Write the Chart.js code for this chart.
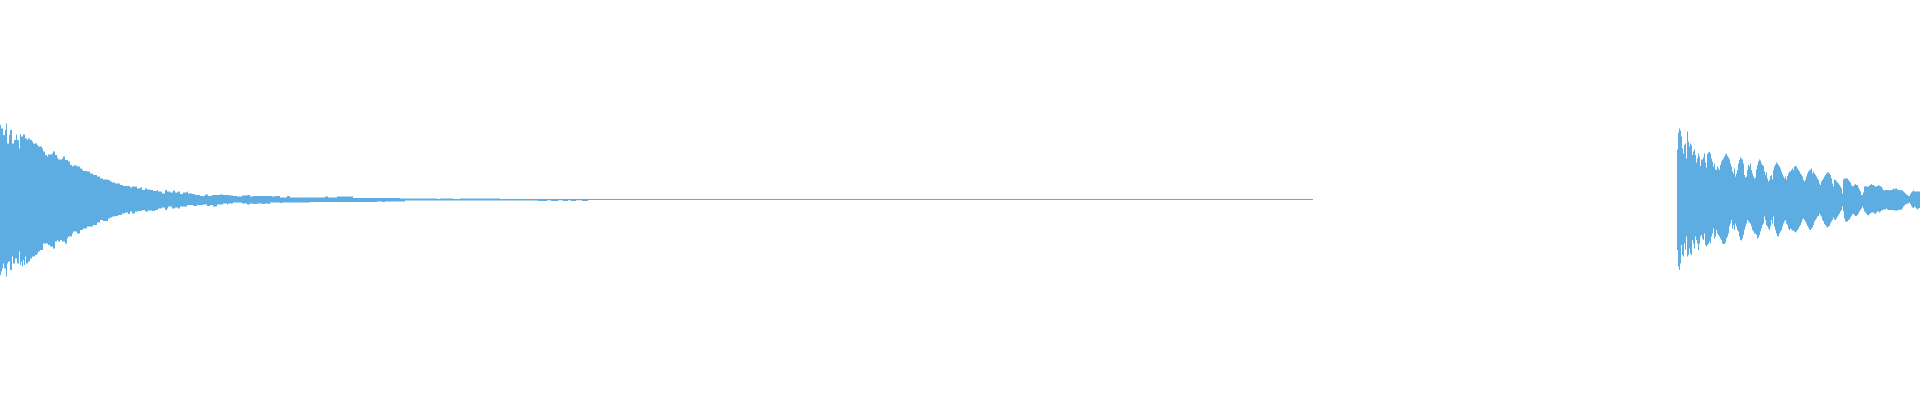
<!DOCTYPE html>
<html>
<head>
<meta charset="utf-8">
<style>
  html, body { margin: 0; padding: 0; background: #ffffff; }
  #wrap { width: 1920px; height: 400px; }
</style>
<script src="https://cdn.jsdelivr.net/npm/chart.js@4.4.1/dist/chart.umd.min.js"></script>
</head>
<body>
<div id="wrap"><canvas id="c" width="1920" height="400"></canvas></div>
<script>
// Waveform: amplitude in % of full scale, time in frames (0..1920)
const timeRange = [0, 1920];
const amplitudeRange = [-100, 100];

// First sound: sharp attack with a long decay tail
const clipAPeakTime = [0,1,3,5,6,7,9,10,12,14,16,17,19,20,21,23,25,27,28,30,32,33,37,38,42,43,45,47,48,52,53,55,57,58,62,63,65,68,70,72,73,77,80,82,83,87,90,93,97,100,103,108,110,112,115,120,123,130,132,137,140,142,145,147,150,153,157,158,162,165,167,170,173,175,178,180,183,187,188,192,195,200,205,208,212,220,223,230,233,237,242,247,250,253,272,275,280,287,290,325,328,337,353,400,437,440,453,460,475,500,1310,1313];
const clipAPeak = [37.5,35.8,32.5,35,38.3,28.3,32.5,35,28.3,30,32.8,30,25.8,32.8,31.7,32.8,30.8,30,30.8,30,29.2,28.3,27.5,26.7,25.8,24.2,22.5,21.7,22.8,23.3,24.2,22.5,21.2,20.3,20.8,21.7,20,19.2,17.5,16.7,17.2,16.7,15.8,15,14.5,14.2,13.3,12.5,11.7,10.8,10.3,10,9.2,8.7,8.3,7.5,7,6.3,6.7,5.8,6.3,5,5.8,5.3,5,4.5,5,4.2,3.3,5,4.2,3.7,4.7,3.7,4.2,3,3.7,4.2,3.3,3,2.5,2,2.8,2,2.5,2.8,2.5,2.2,2,1.7,2.2,2.5,1.7,2,1.7,2,1.3,2,1.3,1.7,1.3,1.7,1,0.8,0.5,0.8,0.5,0.8,0.7,0.5,0.5,0.5];
const clipATroughTime = [0,1,2,3,4,6,7,8,10,12,13,15,17,19,20,21,22,23,24,25,26,28,30,32,35,37,38,40,43,48,50,53,55,57,58,60,62,65,67,68,72,73,77,80,83,87,93,97,100,103,108,110,112,115,118,122,125,128,130,132,135,138,142,145,148,152,155,158,162,165,167,168,172,175,178,180,187,193,197,203,207,210,213,217,220,223,227,228,233,242,247,250,253,257,262,265,268,270,280,282,287,310,377,382,385,400,405,413,538,547,551,558,563,568,571,576,582,588,1313];
const clipATrough = [-37.5,-35.8,-34.2,-31.7,-34.2,-38.3,-31.7,-30.8,-35,-28.3,-31.7,-29.2,-31.7,-25.8,-32.5,-30.8,-33.3,-30,-32.5,-28.3,-31.7,-30.8,-29.2,-28.3,-27.5,-26.7,-25.8,-25,-21.7,-22.5,-23.3,-24.2,-20.8,-20,-20.8,-20,-20.8,-21.7,-19.2,-18.3,-16.7,-15.8,-16.7,-15,-14.2,-13.3,-12.5,-11.2,-10,-10.5,-9.2,-8.7,-8.3,-8,-7.5,-6.7,-6.3,-7,-5.8,-6.7,-5.8,-5.5,-5,-5.8,-5.3,-5.5,-5,-4.2,-3.7,-5,-4.2,-3.3,-4.2,-3.7,-4.2,-3.3,-2.5,-3,-2.5,-2.2,-3,-2.5,-3.3,-2.2,-2.3,-1.7,-2.3,-1.7,-1.3,-1.7,-2.2,-1.7,-2,-1.7,-2,-1.7,-2,-1.2,-1.5,-1.2,-1.3,-1,-0.7,-1,-0.7,-0.7,-0.3,-0.2,-0.5,-0.1,-0.5,-0.1,-0.5,-0.1,-0.5,-0.1,-0.5,0,0];

// Second sound: attack with beating decay
const clipBPeakTime = [1677,1678,1679,1680,1681,1682,1683,1684,1685,1686,1687,1688,1689,1690,1691,1692,1693,1694,1695,1696,1697,1698,1699,1700,1701,1703,1704,1705,1706,1707,1708,1709,1710,1711,1712,1713,1714,1715,1716,1717,1718,1719,1720,1721,1722,1723,1724,1725,1726,1727,1728,1729,1730,1731,1732,1733,1734,1735,1736,1737,1738,1739,1740,1741,1742,1743,1744,1745,1746,1747,1748,1749,1750,1751,1752,1753,1754,1755,1756,1757,1758,1759,1760,1761,1762,1763,1764,1765,1766,1767,1768,1769,1770,1771,1772,1773,1774,1775,1776,1777,1778,1779,1780,1781,1782,1783,1784,1785,1786,1787,1788,1789,1790,1791,1792,1793,1794,1795,1796,1797,1798,1799,1800,1801,1802,1803,1804,1805,1806,1807,1808,1809,1810,1811,1812,1813,1814,1815,1816,1817,1818,1819,1820,1821,1822,1823,1824,1825,1826,1827,1828,1829,1830,1831,1832,1833,1834,1835,1836,1837,1838,1839,1840,1841,1842,1843,1844,1847,1848,1849,1850,1851,1852,1853,1854,1855,1856,1858,1859,1860,1861,1863,1864,1865,1866,1868,1869,1870,1871,1872,1874,1875,1877,1878,1879,1880,1882,1883,1884,1885,1889,1890,1892,1893,1894,1895,1896,1897,1898,1900,1901,1902,1903,1904,1905,1906,1907,1908,1910,1911,1912,1913,1914,1917,1920];
const clipBPeak = [25.3,33.7,35.8,34.7,31.7,25.8,23.3,27.5,28.3,20.8,34.2,29.2,26.7,28.3,27.5,22.5,24.2,25.3,22.5,18.7,20.8,23.3,21.7,17,20.3,21.3,23.3,18.7,16.3,23,23.7,24,23.3,20.8,19.2,16.7,18.3,15.3,15,16.7,15.8,15,17.5,19.2,20,20.8,21.7,22.7,23,22,21.3,20.3,18.3,16.7,14.2,13.3,15.8,11.7,13.3,15,18.3,20,21.3,20.8,20.3,18.3,12.5,11.3,11.7,15,17.5,16.7,18.3,15,13.3,11.7,10.8,11.3,15.3,17.5,19.2,20.3,19.7,18.3,17.5,17,14.2,12.5,13.7,10.8,9.2,10,12,12.5,10.3,15,16.7,17.8,18.7,18.3,17.5,16.7,15.8,14.2,13,11.7,10.8,11.7,10.3,12,13.3,14.2,14.2,15,15.8,15,16.7,17,16.7,15.8,15,14.2,13.3,12.5,11.7,10,9.2,10.3,11.7,13.3,14.2,14.7,15.3,15.8,13.3,14.2,13.3,12.5,11.7,10.8,10,8.3,7.5,9.2,10,10.8,11.7,12.5,13.3,13.7,13.8,13.3,12.5,10.8,8.3,6.7,10.3,10,9.2,8.7,8.3,7.5,6.7,5.8,3.3,10.3,10.8,10.8,10,9.2,8.7,7.5,6.7,7,7.5,8,7.5,6.3,5.3,4.2,2.5,3.7,6.7,7,6.7,6.7,7.2,7.5,8,7.5,7,6.7,7,7.5,7,6.7,5.8,5,4.7,5,4.7,5,5.3,5.7,5.3,5.7,5.8,5.3,5,4.7,5,4.7,4.2,3.7,3.3,2.8,2.5,2,3,3.7,4.2,4.7,4.2,4.2,4.2];
const clipBTroughTime = [1677,1678,1679,1680,1681,1682,1683,1684,1685,1686,1687,1688,1689,1690,1691,1692,1693,1694,1695,1696,1697,1698,1699,1700,1701,1702,1703,1704,1705,1706,1707,1708,1709,1710,1711,1712,1713,1714,1715,1716,1717,1718,1719,1720,1721,1722,1723,1725,1726,1727,1728,1729,1730,1731,1732,1733,1734,1735,1736,1737,1738,1739,1740,1741,1742,1743,1744,1745,1746,1747,1748,1749,1750,1751,1752,1753,1754,1756,1757,1758,1759,1760,1761,1762,1763,1764,1765,1766,1767,1768,1769,1770,1771,1772,1773,1774,1775,1776,1777,1778,1779,1780,1781,1782,1783,1784,1785,1786,1787,1788,1789,1790,1791,1792,1794,1795,1796,1797,1798,1799,1800,1801,1802,1803,1804,1805,1806,1807,1808,1809,1810,1811,1812,1813,1814,1815,1816,1817,1818,1819,1820,1821,1822,1823,1824,1825,1826,1827,1828,1829,1830,1831,1832,1833,1834,1835,1836,1837,1838,1839,1840,1841,1842,1843,1844,1845,1848,1849,1850,1851,1852,1854,1855,1857,1858,1859,1860,1861,1862,1863,1864,1865,1866,1867,1868,1869,1870,1871,1874,1875,1876,1877,1879,1880,1881,1882,1883,1886,1887,1888,1894,1898,1899,1900,1901,1902,1903,1904,1905,1906,1907,1909,1910,1911,1912,1913,1914,1915,1916,1917,1918,1919,1920];
const clipBTrough = [-25,-33.3,-35,-31.7,-22.5,-27.5,-28.3,-21.7,-25,-18.3,-28.3,-27.5,-24.2,-26.7,-27.5,-20,-21.7,-24.2,-18.3,-20,-21.7,-25,-21.7,-18.3,-17.5,-19.2,-20,-16.7,-22.5,-23.3,-22.5,-22,-20.8,-21.7,-18.3,-16.7,-14.2,-19.2,-18.3,-15,-16.7,-17.5,-18.3,-19.2,-20,-21.7,-22,-21.3,-19.2,-18.3,-16.7,-13.3,-11.7,-10,-14.2,-12.5,-15,-11.7,-13.3,-15,-15.8,-18.3,-20,-20.3,-19.2,-17.5,-15,-13.3,-11.7,-10,-10.8,-11.3,-11.7,-13.3,-15,-15.8,-16.7,-17.5,-19.2,-18.7,-17.5,-15.8,-14.2,-12.5,-11.7,-8.3,-10,-12.5,-13.3,-14.2,-15,-13.3,-10,-11.7,-8.3,-13.3,-15,-16.7,-18,-18.3,-16.7,-15.8,-15,-13.3,-11.7,-10.8,-10,-11.7,-12.5,-14.2,-15,-14.2,-14.7,-15.3,-15.8,-16.3,-15.8,-15,-14.2,-13.3,-12.5,-11.3,-9.7,-9.2,-10,-10.8,-11.7,-13,-13.7,-14.7,-15,-14.2,-13.7,-12.5,-10.8,-10,-9.2,-8.3,-8,-6.7,-7.5,-8.3,-10,-10.8,-12,-12.5,-13.3,-13.7,-13.3,-13,-11.7,-10.8,-10,-8.7,-9.7,-10,-9.2,-8.3,-7.5,-6.7,-5.8,-5,-3.3,-5.8,-9.2,-10.8,-10,-9.7,-8.7,-8,-7,-7.5,-8,-7.5,-6.7,-5.8,-5,-4.2,-3.3,-4.2,-5.8,-6.3,-6.7,-7.5,-7.8,-7,-6.7,-6.3,-6.7,-7,-6.3,-5.8,-6.3,-5.8,-5.3,-5,-4.7,-4.3,-4.7,-5,-5.3,-5,-4.7,-5,-4.7,-4.2,-3.3,-2.7,-2.3,-2,-1.7,-1.3,-2,-3,-3.7,-4,-3.3,-3.7,-4.3,-4.7,-4.3,-4,-4];

const waveColor = '#5dade2';

function pairs(ts, vs) {
  return ts.map((t, i) => ({ x: t, y: vs[i] }));
}
function band(ts, vs) {
  return {
    data: pairs(ts, vs),
    stepped: 'before',
    fill: 'origin',
    backgroundColor: waveColor,
    borderColor: 'rgba(0,0,0,0)',
    borderWidth: 0,
    pointRadius: 0,
    tension: 0
  };
}

new Chart(document.getElementById('c'), {
  type: 'line',
  data: {
    datasets: [
      band(clipAPeakTime, clipAPeak),
      band(clipATroughTime, clipATrough),
      band(clipBPeakTime, clipBPeak),
      band(clipBTroughTime, clipBTrough)
    ]
  },
  options: {
    responsive: false,
    animation: false,
    layout: { padding: 0 },
    plugins: { legend: { display: false }, tooltip: { enabled: false } },
    scales: {
      x: { type: 'linear', min: timeRange[0], max: timeRange[1], display: false },
      y: { type: 'linear', min: amplitudeRange[0], max: amplitudeRange[1], display: false }
    }
  }
});
</script>
</body>
</html>
